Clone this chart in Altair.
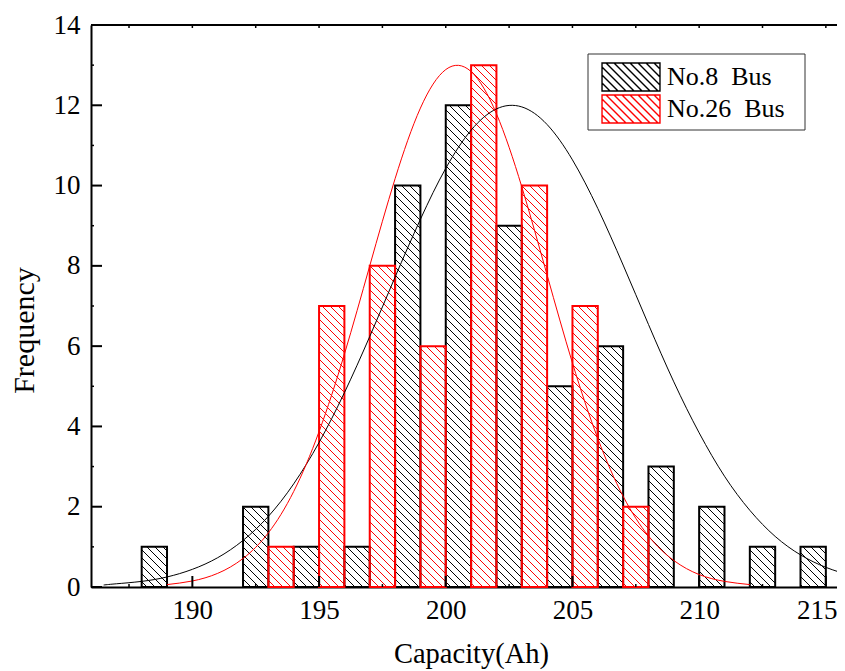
import altair as alt
import numpy as np
import pandas as pd

# ---------------- data ----------------
S8 = "No.8\u00a0 Bus"
S26 = "No.26\u00a0 Bus"

bus8_bin_start = [188, 192, 194, 196, 198, 200, 202, 204, 206, 208, 210, 212, 214]
bus8_counts = [1, 2, 1, 1, 10, 12, 9, 5, 6, 3, 2, 1, 1]
bus26_bin_start = [193, 195, 197, 199, 201, 203, 205, 207]
bus26_counts = [1, 7, 8, 6, 13, 10, 7, 2]
bin_width = 1

bus8_fit_x = [186.5, 187, 188, 189, 190, 191, 192, 193, 194, 195, 196, 197, 198, 199, 200,
              201, 202, 203, 204, 205, 206, 207, 208, 209, 210, 211, 212, 213, 214, 215, 216]
bus8_fit_y = [0.05, 0.08, 0.14, 0.25, 0.44, 0.73, 1.16, 1.76, 2.57, 3.60, 4.84, 6.24, 7.72, 9.16, 10.43,
              11.38, 11.91, 11.96, 11.52, 10.64, 9.43, 8.02, 6.54, 5.11, 3.84, 2.76, 1.91, 1.26, 0.80, 0.49, 0.28]
bus26_fit_x = [189, 190, 191, 192, 193, 194, 195, 196, 197, 198, 199, 200,
               201, 202, 203, 204, 205, 206, 207, 208, 209, 210, 211, 212]
bus26_fit_y = [0.06, 0.15, 0.34, 0.71, 1.35, 2.38, 3.87, 5.80, 8.00, 10.17, 11.93, 12.89,
               12.84, 11.79, 9.97, 7.77, 5.58, 3.70, 2.26, 1.27, 0.66, 0.31, 0.14, 0.06]

x_ticks_major = [190, 195, 200, 205, 210, 215]
x_ticks_minor = [187.5, 192.5, 197.5, 202.5, 207.5, 212.5]
x_ticks_top = [187.5, 190, 192.5, 195, 197.5, 200, 202.5, 205, 207.5, 210, 212.5, 215]
y_ticks_major = [0, 2, 4, 6, 8, 10, 12, 14]
y_ticks_minor = [1, 3, 5, 7, 9, 11, 13]

# ---------------- layout ----------------
W, H = 746, 562
XMIN, XMAX = 186, 215.44
YMIN, YMAX = 0, 14
FONT = "Liberation Serif"
sx = W / (XMAX - XMIN)
sy = H / (YMAX - YMIN)
HATCH = 8.0  # px spacing
LEG_X, LEG_Y, LEG_W, LEG_H = 497, 29, 217, 76  # legend frame (px, plot coords)

bars = pd.DataFrame({
    "series": [S8] * len(bus8_bin_start) + [S26] * len(bus26_bin_start),
    "x": bus8_bin_start + bus26_bin_start,
    "y": bus8_counts + bus26_counts,
})
bars["x2"] = bars["x"] + bin_width
bars["y2"] = 0

# hatch segments derived from the bars (45 degree "\" lines)
rows = []
for _, b in bars.iterrows():
    px0 = (b["x"] - XMIN) * sx
    px1 = (b["x2"] - XMIN) * sx
    py1 = b["y"] * sy
    k0 = int(np.floor(px0 / HATCH))
    k1 = int(np.ceil((px1 + py1) / HATCH))
    for k in range(k0, k1 + 1):
        c = k * HATCH
        pa = max(px0, c - py1)
        pb = min(px1, c)
        if pb - pa < 0.4:
            continue
        rows.append({
            "series": b["series"],
            "x": XMIN + pa / sx, "x2": XMIN + pb / sx,
            "y": (c - pa) / sy, "y2": (c - pb) / sy,
        })
hatch = pd.DataFrame(rows)

curves = pd.DataFrame({
    "series": [S8] * len(bus8_fit_x) + [S26] * len(bus26_fit_x),
    "x": bus8_fit_x + bus26_fit_x,
    "y": bus8_fit_y + bus26_fit_y,
})

# legend swatch path (hatched rectangle)
a, bb = 2.07, 1.0
step = HATCH / 14.0
parts = [f"M{-a},{-bb}H{a}V{bb}H{-a}Z"]
c = -a - bb
while c <= a + bb:
    y1 = max(-bb, -a - c)
    y2 = min(bb, a - c)
    if y2 - y1 > 0.05:
        parts.append(f"M{y1 + c:.3f},{y1:.3f}L{y2 + c:.3f},{y2:.3f}")
    c += step
swatch_path = "".join(parts)

# ---------------- chart ----------------
xscale = alt.Scale(domain=[XMIN, XMAX], nice=False, zero=False)
yscale = alt.Scale(domain=[YMIN, YMAX], nice=False)
cscale = alt.Scale(domain=[S8, S26], range=["black", "red"])

xaxis = alt.Axis(values=x_ticks_major, ticks=False, grid=False, domainWidth=2, domainColor="black",
                 labelFont=FONT, labelFontSize=27, labelColor="black", labelPadding=10,
                 labelFlush=False, format="d",
                 labelOffset={"condition": {"test": "datum.value == 215", "value": -9}, "value": 0},
                 title="Capacity(Ah)", titleFont=FONT, titleFontSize=28.5, titleFontWeight="normal",
                 titleColor="black", titleX=380, titleY=75, titleBaseline="alphabetic")
yaxis = alt.Axis(values=y_ticks_major, ticks=False, grid=False, domainWidth=2, domainColor="black",
                 labelFont=FONT, labelFontSize=27, labelColor="black", labelPadding=11,
                 labelFlush=False, format="d",
                 title="Frequency", titleFont=FONT, titleFontSize=30, titleFontWeight="normal",
                 titleColor="black", titleAngle=270, titleX=-58, titleY=305,
                 titleBaseline="alphabetic")

legend = alt.Legend(orient="none", legendX=LEG_X, legendY=LEG_Y, title=None,
                    symbolType=swatch_path, symbolSize=784, symbolStrokeWidth=1.4,
                    symbolFillColor="transparent", symbolOffset=20, labelOffset=21,
                    labelFont=FONT, labelFontSize=26, labelColor="black",
                    padding=8, rowPadding=-2)

X = alt.X("x:Q", scale=xscale, axis=xaxis, title="Capacity(Ah)")
Y = alt.Y("y:Q", scale=yscale, axis=yaxis, title="Frequency")
C = alt.Color("series:N", scale=cscale, legend=legend)

hatch_layer = alt.Chart(hatch).mark_rule(strokeWidth=1).encode(
    x=X, x2="x2:Q", y=Y, y2="y2:Q", color=C)

bar_layer = alt.Chart(bars).mark_rect(filled=False, strokeWidth=2).encode(
    x=X, x2="x2:Q", y=Y, y2="y2:Q", color=C)

curve_layer = alt.Chart(curves).mark_line(strokeWidth=1, clip=True, interpolate="natural").encode(
    x=X, y=Y, color=C)

def xtick_layer(vals, y0, y1, width):
    return alt.Chart(pd.DataFrame({"x": vals})).mark_rule(color="black", strokeWidth=width).encode(
        x=X, y=alt.value(y0), y2=alt.value(y1))

def ytick_layer(vals, x0, x1, width):
    return alt.Chart(pd.DataFrame({"y": vals})).mark_rule(color="black", strokeWidth=width).encode(
        y=Y, x=alt.value(x0), x2=alt.value(x1))

top_border = alt.Chart(pd.DataFrame({"v": [0]})).mark_rule(color="black", strokeWidth=2).encode(
    x=alt.value(0), x2=alt.value(W), y=alt.value(0))

legend_frame = alt.Chart(pd.DataFrame({"v": [0]})).mark_rect(
    fill="white", stroke="#333333", strokeWidth=1).encode(
    x=alt.value(LEG_X), x2=alt.value(LEG_X + LEG_W),
    y=alt.value(LEG_Y), y2=alt.value(LEG_Y + LEG_H))

chart = alt.layer(
    hatch_layer,
    bar_layer,
    curve_layer,
    xtick_layer(x_ticks_major, H, H - 11, 2),
    xtick_layer(x_ticks_minor, H, H - 3, 1.5),
    xtick_layer(x_ticks_top, 0, 3, 1.5),
    ytick_layer(y_ticks_major, 0, 11, 2),
    ytick_layer(y_ticks_minor, 0, 3, 1.5),
    top_border,
    legend_frame,
).properties(
    width=W, height=H,
    padding={"left": 83, "top": 17, "right": 0, "bottom": 84},
    autosize=alt.AutoSizeParams(type="none"),
).configure_view(stroke=None).configure(background="white")

chart.save("out.html", embed_options={"renderer": "svg", "actions": False})
